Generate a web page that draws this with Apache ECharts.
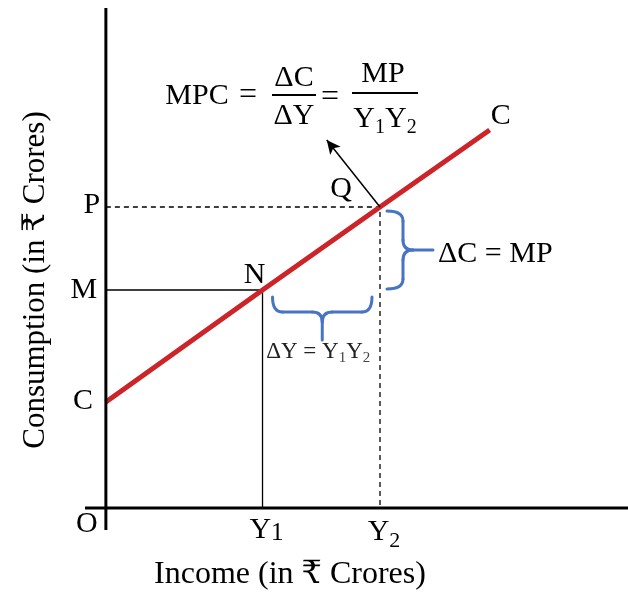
<!DOCTYPE html>
<html><head><meta charset="utf-8">
<script src="https://cdn.jsdelivr.net/npm/echarts@6/dist/echarts.min.js"></script>
<style>html,body{margin:0;padding:0;background:#fff}#c{width:628px;height:592px}</style>
</head><body><div id="c"></div>
<script>
// ---- data ----
const consX = [0, 3, 5.25, 7.35];
const consY = [2.12, 4.36, 6.02, 7.56];
const pointN = [3, 4.36];
const pointQ = [5.25, 6.02];
const arrowTip = [4.23, 7.36];
const xRange = [-0.4, 10];
const yRange = [-0.44, 10];
const yTickLabels = ['C', 'M', 'P'];
const xTickLabels = ['Y1', 'Y2'];
const xName = 'Income (in ₹ Crores)';
const yName = 'Consumption (in ₹ Crores)';

const FONT = '"Liberation Serif", "DejaVu Serif", serif';
const chart = echarts.init(document.getElementById('c'));

const lineData = consX.map((x, i) => [x, consY[i]]);
const lab = (value, text, offset, extra) => ({
  value,
  label: Object.assign({ show: true, formatter: text, position: 'inside', offset,
    fontFamily: FONT, fontSize: 30, color: '#000', textBorderWidth: 0, opacity: 1 }, extra || {})
});
const subRich = {
  s1: { fontSize: 25, fontFamily: FONT, color: '#000', textBorderWidth: 0, verticalAlign: 'bottom', lineHeight: 31 },
  s2: { fontSize: 22, fontFamily: FONT, color: '#000', textBorderWidth: 0, verticalAlign: 'bottom', lineHeight: 40 }
};

chart.setOption({
  animation: false,
  grid: { left: 85, right: 0, top: 8, bottom: 62 },
  xAxis: { type: 'value', min: xRange[0], max: xRange[1], show: false },
  yAxis: { type: 'value', min: yRange[0], max: yRange[1], show: false },
  series: [
    { type: 'line', data: [[xRange[0], 0], [xRange[1], 0]], symbol: 'none',
      lineStyle: { color: '#000', width: 3 }, z: 5 },
    { type: 'line', data: [[0, yRange[0]], [0, yRange[1]]], symbol: 'none',
      lineStyle: { color: '#000', width: 3 }, z: 5 },
    { type: 'line', data: [[0, pointN[1]], pointN, [pointN[0], 0]], symbol: 'none',
      lineStyle: { color: '#000', width: 1.3 }, z: 2 },
    { type: 'line', data: [[0, pointQ[1]], pointQ, [pointQ[0], 0]], symbol: 'none',
      lineStyle: { color: '#000', width: 1.3, type: [5, 4] }, z: 2 },
    { type: 'line', data: [], symbol: 'none', z: 3,
      markLine: { silent: true, symbol: ['none', 'arrow'], symbolSize: [10, 14],
        label: { show: false },
        lineStyle: { color: '#000', width: 1.5, type: 'solid' },
        data: [[{ coord: pointQ }, { coord: arrowTip }]] } },
    { type: 'line', data: lineData, symbol: 'none',
      lineStyle: { color: '#cc2428', width: 5 }, z: 4 },
    { type: 'scatter', symbolSize: 0, z: 6, itemStyle: { color: '#000' }, data: [
      lab([0, 0], 'O', [-19, 16]),
      lab([0, consY[0]], yTickLabels[0], [-23, -1]),
      lab([0, pointN[1]], yTickLabels[1], [-22, 0]),
      lab([0, pointQ[1]], yTickLabels[2], [-14, -2]),
      lab([pointN[0], 0], 'Y{s1|1}', [4, 22], { rich: subRich }),
      lab([pointQ[0], 0], 'Y{s2|2}', [4, 24], { rich: subRich }),
      lab(pointN, 'N', [-8, -15]),
      lab(pointQ, 'Q', [-39, -18]),
      lab(lineData[lineData.length - 1], 'C', [11, -14])
    ] }
  ]
});

const q = chart.convertToPixel({ gridIndex: 0 }, pointQ);
const n = chart.convertToPixel({ gridIndex: 0 }, pointN);
const BLUE = '#4874c4';
const bst = { stroke: BLUE, lineWidth: 3, fill: null, lineCap: 'round' };
const seg = (x1, y1, x2, y2) => ({ type: 'line', z: 10, shape: { x1, y1, x2, y2 }, style: bst });
const cur = (x1, y1, cx, cy, x2, y2) => ({ type: 'bezierCurve', z: 10,
  shape: { x1, y1, cpx1: cx, cpy1: cy, x2, y2 }, style: bst });

function vBrace(x, y1, y2, d, t) {
  const m = (y1 + y2) / 2, r = 10;
  return [
    cur(x, y1, x + d, y1, x + d, y1 + r),
    seg(x + d, y1 + r, x + d, m - r),
    cur(x + d, m - r, x + d, m, x + d + r, m),
    seg(x + d + r, m, x + t, m),
    cur(x + d + r, m, x + d, m, x + d, m + r),
    seg(x + d, m + r, x + d, y2 - r),
    cur(x + d, y2 - r, x + d, y2, x, y2)
  ];
}
function hBrace(x1, x2, y, d, t) {
  const m = (x1 + x2) / 2, r = 10;
  return [
    cur(x1, y, x1, y + d, x1 + r, y + d),
    seg(x1 + r, y + d, m - r, y + d),
    cur(m - r, y + d, m, y + d, m, y + d + r),
    seg(m, y + d + r, m, y + t),
    cur(m, y + d + r, m, y + d, m + r, y + d),
    seg(m + r, y + d, x2 - r, y + d),
    cur(x2 - r, y + d, x2, y + d, x2, y)
  ];
}
const bx = q[0] + 7, by1 = q[1] + 4, by2 = n[1] - 1;
const hy = n[1] + 7, hx1 = n[0] + 10, hx2 = q[0] - 8;
const txt = (x, y, text, size, extra) => ({
  type: 'text', x, y, z: 10,
  style: Object.assign({ text, font: `${size}px ${FONT}`, fill: '#000',
    align: 'center', verticalAlign: 'middle' }, extra || {})
});
const bar = (x1, x2, y) => ({ type: 'line', z: 10,
  shape: { x1, y1: y, x2, y2: y }, style: { stroke: '#000', lineWidth: 2 } });

const yNameEl = txt(36, 280, yName, 31);
yNameEl.rotation = Math.PI / 2;

chart.setOption({
  graphic: [
    ...vBrace(bx, by1, by2, 16, 46),
    ...hBrace(hx1, hx2, hy, 15, 43),
    txt(bx + 51, (by1 + by2) / 2 + 4, 'ΔC = MP', 30, { align: 'left' }),
    txt((hx1 + hx2) / 2 - 4, hy + 55, 'ΔY = Y{a|1}Y{a|2}', 23, { fill: '#222',
      rich: { a: { fontSize: 15, fontFamily: FONT, fill: '#444', verticalAlign: 'bottom', lineHeight: 28 } } }),
    txt(197, 96, 'MPC', 30),
    txt(248, 96, '=', 32),
    txt(294, 78, 'ΔC', 30),
    bar(272, 316, 95),
    txt(294, 116, 'ΔY', 30),
    txt(330, 98, '=', 32),
    txt(383, 74, 'MP', 30),
    bar(352, 418, 93),
    txt(385, 119, 'Y{b|1}Y{b|2}', 30, {
      rich: { b: { fontSize: 20, fontFamily: FONT, fill: '#000', verticalAlign: 'bottom', lineHeight: 38 } } }),
    txt(290, 575, xName, 32),
    yNameEl
  ]
});
</script></body></html>
